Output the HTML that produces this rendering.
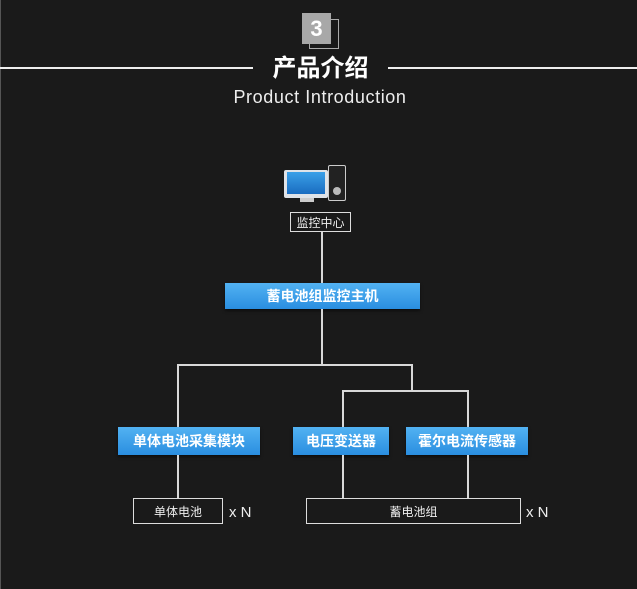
<!DOCTYPE html>
<html><head><meta charset="utf-8"><style>
body{margin:0;width:637px;height:589px;background:#1a1a1a;position:relative;overflow:hidden;font-family:"Liberation Sans","Noto Sans CJK SC",sans-serif;color:#fff}
.a{position:absolute;box-sizing:border-box}
.l{position:absolute;background:#d8d8d8}
.blue{position:absolute;box-sizing:border-box;background:linear-gradient(#52b2f2,#2a8ee0);display:flex;align-items:center;justify-content:center;font-weight:bold;font-size:14px;color:#fff;box-shadow:0 2px 3px rgba(0,0,0,.5)}
.wb{position:absolute;box-sizing:border-box;border:1px solid #ddd;display:flex;align-items:center;justify-content:center;font-size:12px;color:#eee}
</style></head><body>
<div class="a" style="left:0;top:0;width:1px;height:589px;background:#555"></div>
<div class="a" style="left:309px;top:19px;width:30px;height:30px;border:1px solid #aaa"></div>
<div class="a" style="left:302px;top:13px;width:29px;height:31px;background:#a8a8a8;font-weight:bold;font-size:22px;text-align:center;line-height:31px">3</div>
<div class="l" style="left:0;top:67px;width:253px;height:2px;background:#eee"></div>
<div class="l" style="left:388px;top:67px;width:249px;height:2px;background:#eee"></div>
<div class="a" style="left:253px;top:54px;width:135px;text-align:center;font-size:24px;font-weight:bold;line-height:30px">产品介绍</div>
<div class="a" style="left:200px;top:86px;width:240px;text-align:center;font-size:18px;line-height:22px;color:#eee;letter-spacing:0.6px">Product Introduction</div>
<!-- computer icon -->
<div class="a" style="left:284px;top:170px;width:44px;height:28px;background:#dfe3e8;border-radius:2px"></div>
<div class="a" style="left:287px;top:172px;width:38px;height:22px;background:linear-gradient(#3aa0e8,#1a6cc0)"></div>
<div class="a" style="left:300px;top:198px;width:14px;height:4px;background:#ccc"></div>
<div class="a" style="left:328px;top:165px;width:18px;height:36px;background:#222;border:1px solid #ccc;border-radius:2px"></div>
<div class="a" style="left:333px;top:187px;width:8px;height:8px;border-radius:50%;background:#bbb"></div>
<div class="wb" style="left:290px;top:212px;width:61px;height:20px">监控中心</div>
<div class="l" style="left:321px;top:232px;width:2px;height:51px"></div>
<div class="blue" style="left:225px;top:283px;width:195px;height:26px">蓄电池组监控主机</div>
<div class="l" style="left:321px;top:309px;width:2px;height:56px"></div>
<div class="l" style="left:177px;top:364px;width:236px;height:2px"></div>
<div class="l" style="left:177px;top:364px;width:2px;height:63px"></div>
<div class="l" style="left:411px;top:364px;width:2px;height:27px"></div>
<div class="l" style="left:342px;top:390px;width:127px;height:2px"></div>
<div class="l" style="left:342px;top:390px;width:2px;height:37px"></div>
<div class="l" style="left:467px;top:390px;width:2px;height:37px"></div>
<div class="blue" style="left:118px;top:427px;width:142px;height:28px">单体电池采集模块</div>
<div class="blue" style="left:293px;top:427px;width:96px;height:28px">电压变送器</div>
<div class="blue" style="left:406px;top:427px;width:122px;height:28px">霍尔电流传感器</div>
<div class="l" style="left:177px;top:455px;width:2px;height:43px"></div>
<div class="l" style="left:342px;top:455px;width:2px;height:43px"></div>
<div class="l" style="left:467px;top:455px;width:2px;height:43px"></div>
<div class="wb" style="left:133px;top:498px;width:90px;height:26px">单体电池</div>
<div class="wb" style="left:306px;top:498px;width:215px;height:26px">蓄电池组</div>
<div class="a" style="left:229px;top:504px;font-size:15px;color:#eee">x N</div>
<div class="a" style="left:526px;top:504px;font-size:15px;color:#eee">x N</div>
</body></html>
